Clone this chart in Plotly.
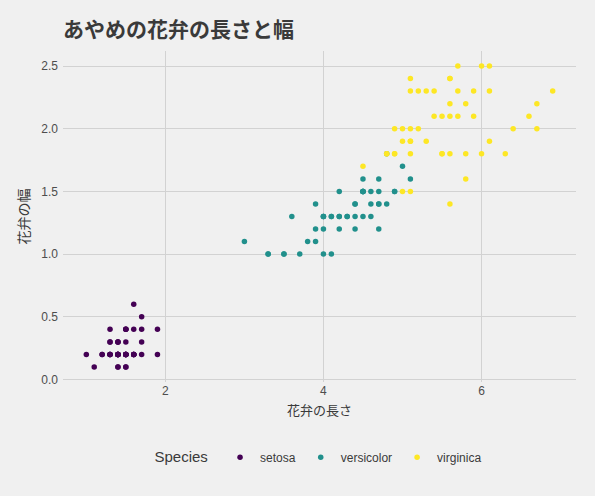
import plotly.graph_objects as go

species = ["setosa", "versicolor", "virginica"]
colors = ["#440154", "#21908C", "#FDE725"]

setosa_len = [1.4, 1.4, 1.3, 1.5, 1.4, 1.7, 1.4, 1.5, 1.4, 1.5, 1.5, 1.6, 1.4, 1.1, 1.2, 1.5, 1.3, 1.4, 1.7, 1.5,
              1.7, 1.5, 1.0, 1.7, 1.9, 1.6, 1.6, 1.5, 1.4, 1.6, 1.6, 1.5, 1.5, 1.4, 1.5, 1.2, 1.3, 1.4, 1.3, 1.5,
              1.3, 1.3, 1.3, 1.6, 1.9, 1.4, 1.6, 1.4, 1.5, 1.4]
setosa_wid = [0.2, 0.2, 0.2, 0.2, 0.2, 0.4, 0.3, 0.2, 0.2, 0.1, 0.2, 0.2, 0.1, 0.1, 0.2, 0.4, 0.4, 0.3, 0.3, 0.3,
              0.2, 0.4, 0.2, 0.5, 0.2, 0.2, 0.4, 0.2, 0.2, 0.2, 0.2, 0.4, 0.1, 0.2, 0.2, 0.2, 0.2, 0.1, 0.2, 0.2,
              0.3, 0.3, 0.2, 0.6, 0.4, 0.3, 0.2, 0.2, 0.2, 0.2]

versicolor_len = [4.7, 4.5, 4.9, 4.0, 4.6, 4.5, 4.7, 3.3, 4.6, 3.9, 3.5, 4.2, 4.0, 4.7, 3.6, 4.4, 4.5, 4.1, 4.5, 3.9,
                  4.8, 4.0, 4.9, 4.7, 4.3, 4.4, 4.8, 5.0, 4.5, 3.5, 3.8, 3.7, 3.9, 5.1, 4.5, 4.5, 4.7, 4.4, 4.1, 4.0,
                  4.4, 4.6, 4.0, 3.3, 4.2, 4.2, 4.2, 4.3, 3.0, 4.1]
versicolor_wid = [1.4, 1.5, 1.5, 1.3, 1.5, 1.3, 1.6, 1.0, 1.3, 1.4, 1.0, 1.5, 1.0, 1.4, 1.3, 1.4, 1.5, 1.0, 1.5, 1.1,
                  1.8, 1.3, 1.5, 1.2, 1.3, 1.4, 1.4, 1.7, 1.5, 1.0, 1.1, 1.0, 1.2, 1.6, 1.5, 1.6, 1.5, 1.3, 1.3, 1.3,
                  1.2, 1.4, 1.2, 1.0, 1.3, 1.2, 1.3, 1.3, 1.1, 1.3]

virginica_len = [6.0, 5.1, 5.9, 5.6, 5.8, 6.6, 4.5, 6.3, 5.8, 6.1, 5.1, 5.3, 5.5, 5.0, 5.1, 5.3, 5.5, 6.7, 6.9, 5.0,
                 5.7, 4.9, 6.7, 4.9, 5.7, 6.0, 4.8, 4.9, 5.6, 5.8, 6.1, 6.4, 5.6, 5.1, 5.6, 6.1, 5.6, 5.5, 4.8, 5.4,
                 5.6, 5.1, 5.1, 5.9, 5.7, 5.2, 5.0, 5.2, 5.4, 5.1]
virginica_wid = [2.5, 1.9, 2.1, 1.8, 2.2, 2.1, 1.7, 1.8, 1.8, 2.5, 2.0, 1.9, 2.1, 2.0, 2.4, 2.3, 1.8, 2.2, 2.3, 1.5,
                 2.3, 2.0, 2.0, 1.8, 2.1, 1.8, 1.8, 1.8, 2.1, 1.6, 1.9, 2.0, 2.2, 1.5, 1.4, 2.3, 2.4, 1.8, 1.8, 2.1,
                 2.4, 2.3, 1.9, 2.3, 2.5, 2.3, 1.9, 2.0, 2.3, 1.8]

x_ticks = [2, 4, 6]
y_ticks = [0.0, 0.5, 1.0, 1.5, 2.0, 2.5]

lengths = [setosa_len, versicolor_len, virginica_len]
widths = [setosa_wid, versicolor_wid, virginica_wid]

fig = go.Figure()
for name, c, xs, ys in zip(species, colors, lengths, widths):
    fig.add_trace(go.Scatter(x=xs, y=ys, mode="markers", name=name,
                             marker=dict(color=c, size=5.5, line=dict(width=0))))

jp = "Noto Sans CJK JP, Liberation Sans, Arial, sans-serif"

fig.update_layout(
    width=595, height=496,
    paper_bgcolor="#f0f0f0", plot_bgcolor="#f0f0f0",
    margin=dict(l=63, r=19, t=51, b=114),
    font=dict(family=jp, color="#4d4d4d", size=12),
    title=dict(text="<b>あやめの花弁の長さと幅</b>", x=0, xref="paper", y=0.94, yref="container",
               xanchor="left", yanchor="middle",
               font=dict(size=21, color="#3a3a3a", family=jp)),
    showlegend=True,
    legend=dict(orientation="h", x=0.5, xanchor="center", xref="paper",
                y=0.077, yanchor="middle", yref="container",
                title=dict(text="Species ", font=dict(size=15, color="#3a3a3a",
                                                      family="Liberation Sans, Arial")),
                font=dict(size=12, color="#3a3a3a", family="Liberation Sans, Arial"),
                itemsizing="trace", bgcolor="rgba(0,0,0,0)"),
)
fig.update_xaxes(range=[0.705, 7.195], tickvals=x_ticks, ticktext=[str(v) for v in x_ticks],
                 showgrid=True, gridcolor="#d2d2d2", gridwidth=1, zeroline=False, showline=False,
                 ticks="", tickfont=dict(family="Liberation Sans, Arial", size=12, color="#4d4d4d"),
                 title=dict(text="花弁の長さ", font=dict(size=13, color="#3a3a3a"), standoff=8))
fig.update_yaxes(range=[-0.02, 2.62], tickvals=y_ticks, ticktext=[f"{v:.1f}" for v in y_ticks],
                 showgrid=True, gridcolor="#d2d2d2", gridwidth=1, zeroline=False, showline=False,
                 ticks="", ticklabelstandoff=4,
                 tickfont=dict(family="Liberation Sans, Arial", size=12, color="#4d4d4d"),
                 title=dict(text="花弁の幅", font=dict(size=14, color="#3a3a3a"), standoff=8))

fig.write_html("out.html", config={"displayModeBar": False},
               post_script="document.body.style.margin='0';document.body.style.background='#f0f0f0';")
